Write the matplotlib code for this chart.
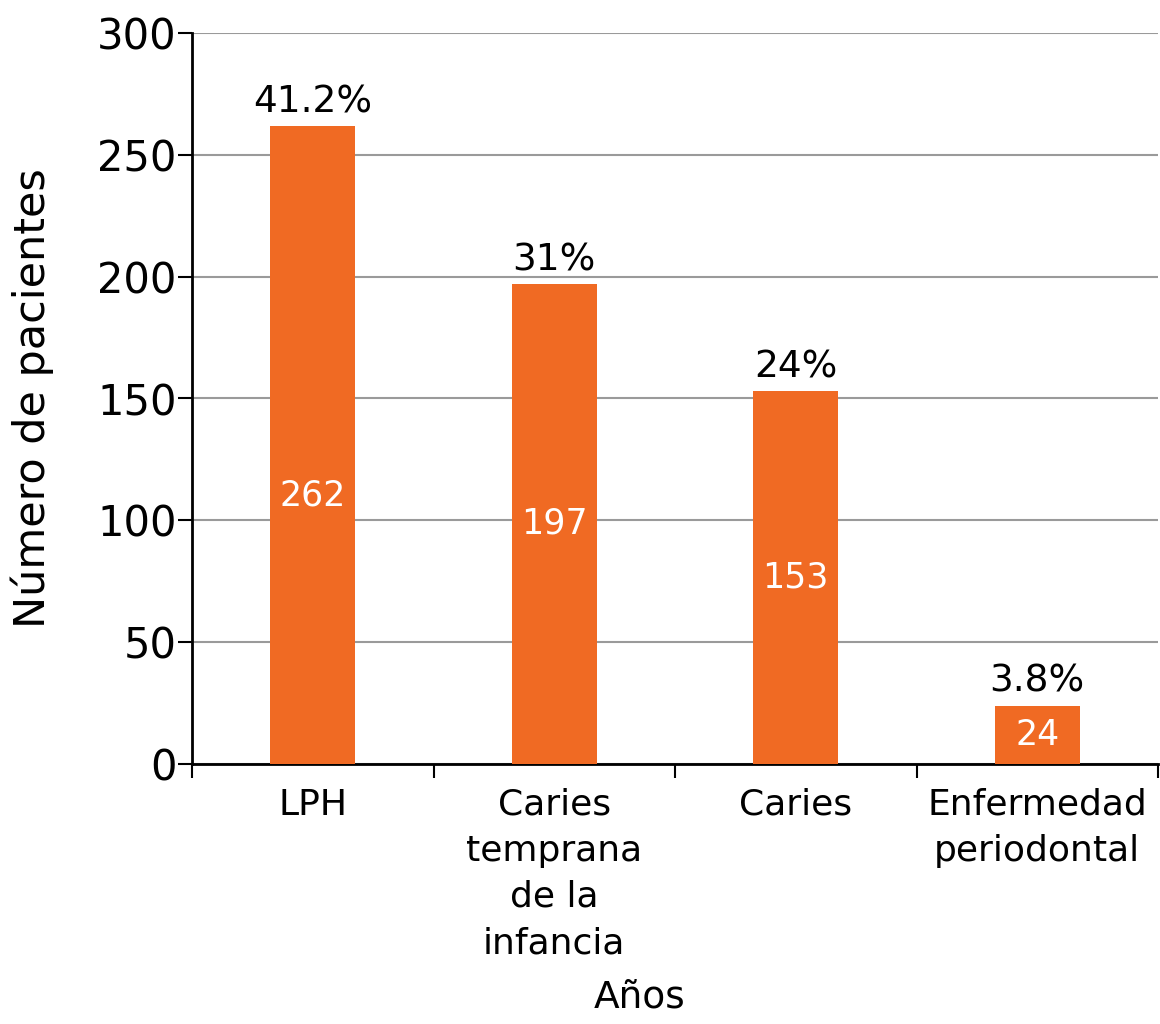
import matplotlib
matplotlib.use("Agg")
import matplotlib.pyplot as plt
import numpy as np

plt.rcParams['font.family'] = ['DejaVu Sans']

categorias = ["LPH", "Caries\ntemprana\nde la\ninfancia", "Caries", "Enfermedad\nperiodontal"]
pacientes = [262, 197, 153, 24]
porcentajes = ["41.2%", "31%", "24%", "3.8%"]

naranja = "#F06A23"

fig = plt.figure(figsize=(11.6, 10.24), dpi=100)
ax = fig.add_axes([192/1160, 1 - 764/1024, (1158-192)/1160, (764-33)/1024])

x = np.arange(len(pacientes)) + 0.5
ax.bar(x, pacientes, width=0.35, color=naranja, zorder=3)

for xi, v, p in zip(x, pacientes, porcentajes):
    ax.annotate(p, (xi, v), xytext=(0, 4), textcoords='offset points',
                ha='center', va='bottom', fontsize=27, color='black')
    ax.text(xi, min(v/2, 110), str(v), ha='center', va='center',
            fontsize=25, color='white', zorder=4)

ax.set_xlim(0, 4)
ax.set_ylim(0, 300)
ax.set_yticks(np.arange(0, 301, 50))
ax.set_xticks(np.arange(0, 5))
ax.set_xticklabels([])
ax.set_xticks(x, minor=True)
ax.set_xticklabels(categorias, minor=True, fontsize=26, linespacing=1.45, va='top')
ax.tick_params(axis='x', which='minor', length=0, pad=17)
ax.tick_params(axis='x', which='major', length=10, width=1.5, direction='out')
ax.tick_params(axis='y', length=10, width=1.5, labelsize=30, pad=1)

ax.yaxis.grid(True, color='#9a9a9a', linewidth=1.5, zorder=0)
ax.set_axisbelow(True)
for s in ['top', 'right']:
    ax.spines[s].set_visible(False)
ax.spines['left'].set_linewidth(2)
ax.spines['bottom'].set_linewidth(2)

ax.set_ylabel("Número de pacientes", fontsize=31)
ax.yaxis.set_label_coords(-0.143, 0.5)
fig.text(640/1160, 1 - 997/1024, "Años", ha='center', va='center', fontsize=27)

fig.savefig("out.png", dpi=100)
